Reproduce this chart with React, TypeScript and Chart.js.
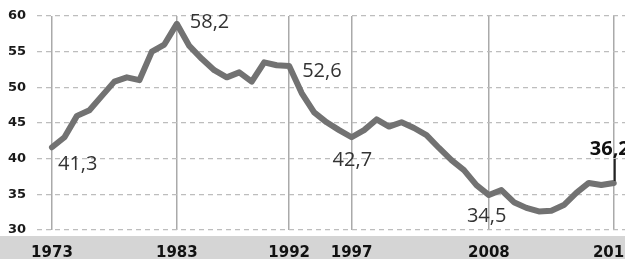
import React, { useEffect, useRef } from 'react';
import { Chart, registerables } from 'chart.js';

Chart.register(...registerables);

const years = [
  1973, 1974, 1975, 1976, 1977, 1978, 1979, 1980, 1981, 1982,
  1983, 1984, 1985, 1986, 1987, 1988, 1989, 1990, 1991, 1992,
  1993, 1994, 1995, 1996, 1997, 1998, 1999, 2000, 2001, 2002,
  2003, 2004, 2005, 2006, 2007, 2008, 2009, 2010, 2011, 2012,
  2013, 2014, 2015, 2016, 2017, 2018,
];

const shares = [
  41.6, 43.0, 46.0, 46.8, 48.8, 50.8, 51.4, 51.0, 55.0, 56.0,
  58.9, 55.8, 54.0, 52.4, 51.4, 52.1, 50.8, 53.5, 53.1, 53.0,
  49.2, 46.5, 45.1, 44.0, 43.0, 44.0, 45.5, 44.5, 45.1, 44.3,
  43.3, 41.5, 39.8, 38.4, 36.3, 34.9, 35.6, 33.9, 33.1, 32.6,
  32.7, 33.5, 35.2, 36.6, 36.3, 36.6,
];

const tickYears = [1973, 1983, 1992, 1997, 2008, 2018];
const yTicks = [30, 35, 40, 45, 50, 55, 60];

const labeledYears = [1973, 1983, 1992, 1997, 2008, 2018];
const labelTexts = ['41,3', '58,2', '52,6', '42,7', '34,5', '36,2'];
const labelBold = [false, false, false, false, false, true];
const labelOffsets: [number, number][] = [
  [6, 23], [13, 4], [13, 11], [-19, 29], [-22, 27], [-24, -28],
];

export default function App() {
  const ref = useRef<HTMLCanvasElement>(null);

  useEffect(() => {
    if (!ref.current) return;

    const bandPlugin = {
      id: 'band',
      beforeDraw(chart: any) {
        const { ctx, width, height, chartArea } = chart;
        const top = chartArea.bottom + 6;
        ctx.save();
        ctx.fillStyle = '#d5d5d5';
        ctx.fillRect(0, top, width, height - top);
        ctx.restore();
      },
    };

    const labelPlugin = {
      id: 'valueLabels',
      afterDatasetsDraw(chart: any) {
        const { ctx } = chart;
        const xs = chart.scales.x;
        const ys = chart.scales.y;
        ctx.save();
        labeledYears.forEach((yr, i) => {
          const idx = years.indexOf(yr);
          const px = xs.getPixelForValue(yr);
          const py = ys.getPixelForValue(shares[idx]);
          const [dx, dy] = labelOffsets[i];
          ctx.font = (labelBold[i] ? 'bold ' : '') + '20px "Open Sans"';
          ctx.fillStyle = labelBold[i] ? '#111' : '#333';
          ctx.textAlign = 'left';
          ctx.textBaseline = 'alphabetic';
          ctx.fillText(labelTexts[i], px + dx, py + dy);
          if (labelBold[i]) {
            ctx.strokeStyle = '#222';
            ctx.lineWidth = 2;
            ctx.beginPath();
            ctx.moveTo(px + 1, py + dy + 4);
            ctx.lineTo(px + 1, py - 2);
            ctx.stroke();
          }
        });
        ctx.restore();
      },
    };

    const chart = new Chart(ref.current, {
      type: 'line',
      data: {
        datasets: [
          {
            data: years.map((y, i) => ({ x: y, y: shares[i] })),
            borderColor: '#727272',
            borderWidth: 6,
            pointRadius: 0,
            tension: 0,
            borderJoinStyle: 'round',
            borderCapStyle: 'round',
            clip: false as any,
          },
        ],
      },
      options: {
        animation: false,
        responsive: true,
        maintainAspectRatio: false,
        layout: { padding: { top: 16, left: 0, right: 0, bottom: 0 } },
        plugins: { legend: { display: false }, tooltip: { enabled: false } },
        scales: {
          x: {
            type: 'linear',
            min: 1971.8,
            max: 2018.9,
            afterBuildTicks: (s: any) => {
              s.ticks = tickYears.map((v) => ({ value: v }));
            },
            afterFit: (s: any) => {
              s.height = 29;
              s.paddingLeft = 0;
              s.paddingRight = 0;
            },
            grid: { color: '#aaaaaa', lineWidth: 1.5, drawTicks: false },
            border: { display: false },
            ticks: {
              autoSkip: false,
              maxRotation: 0,
              padding: 14,
              color: '#111',
              font: { family: 'DejaVu Sans', weight: 'bold', size: 15 },
              callback: (v: any) => String(v),
            },
          },
          y: {
            min: 30,
            max: 60,
            afterBuildTicks: (s: any) => {
              s.ticks = yTicks.map((v) => ({ value: v }));
            },
            afterFit: (s: any) => {
              s.width = 37;
              s.paddingTop = 0;
              s.paddingBottom = 0;
            },
            grid: { color: '#bdbdbd', lineWidth: 1.3, drawTicks: false },
            border: { display: false, dash: [5, 4] },
            ticks: {
              padding: 11,
              color: '#1a1a1a',
              font: { family: 'DejaVu Sans', weight: 'bold', size: 13 },
              callback: (v: any) => String(v),
            },
          },
        },
      },
      plugins: [bandPlugin, labelPlugin],
    });

    return () => chart.destroy();
  }, []);

  return (
    <div style={{ position: 'absolute', left: 0, top: 0, width: 625, height: 259 }}>
      <canvas ref={ref} />
    </div>
  );
}
